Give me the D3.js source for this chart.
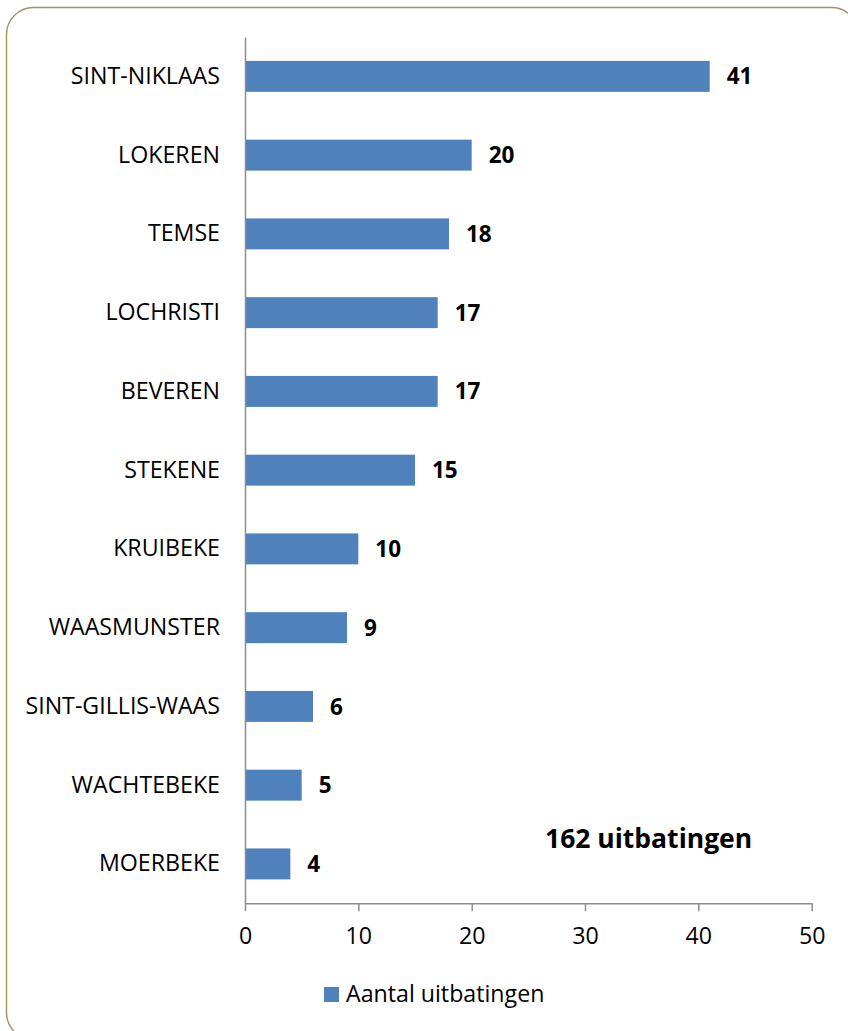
<!DOCTYPE html>
<html><head><meta charset="utf-8">
<script src="https://cdn.jsdelivr.net/npm/d3@7"></script>
<style>html,body{margin:0;padding:0;background:#fff;}svg{display:block;}</style>
</head><body>
<script>
const categories = ["SINT-NIKLAAS","LOKEREN","TEMSE","LOCHRISTI","BEVEREN","STEKENE","KRUIBEKE","WAASMUNSTER","SINT-GILLIS-WAAS","WACHTEBEKE","MOERBEKE"];
const values = [41,20,18,17,17,15,10,9,6,5,4];
const xTicks = [0,10,20,30,40,50];
const seriesName = "Aantal uitbatingen";
const annotation = "162 uitbatingen";

const W = 848, H = 1031;
const FONT = "'Open Sans', sans-serif";
const FS = 23.2;
const svg = d3.select("body").append("svg").attr("width", W).attr("height", H);

// outer rounded border
svg.append("rect").attr("x", 6.5).attr("y", 7.5).attr("width", 852).attr("height", 1032)
  .attr("rx", 27).attr("fill", "#fff").attr("stroke", "#9d9466").attr("stroke-width", 1.4);

const x = d3.scaleLinear().domain([0, 50]).range([245, 811.7]);
const y = d3.scaleBand().domain(categories).range([37, 903.3]).paddingInner(0.607).paddingOuter(0.3035);

const data = categories.map((c, i) => ({c, v: values[i]}));

// bars
svg.append("g").selectAll("rect").data(data).join("rect")
  .attr("x", x(0)).attr("y", d => y(d.c))
  .attr("width", d => x(d.v) - x(0)).attr("height", y.bandwidth())
  .attr("fill", "#4F81BD");

// value labels
svg.append("g").selectAll("text").data(data).join("text")
  .attr("x", d => x(d.v) + 17).attr("y", d => y(d.c) + y.bandwidth() / 2)
  .attr("dy", "0.36em")
  .attr("font-family", FONT).attr("font-weight", "bold").attr("font-size", 22.5)
  .attr("fill", "#000").text(d => d.v);

// x axis
const xAxis = d3.axisBottom(x).tickValues(xTicks).tickSize(8).tickPadding(16).tickSizeOuter(0);
const gx = svg.append("g").attr("transform", `translate(0,${903.3})`).call(xAxis);
gx.select(".domain").attr("stroke", "#8c8c8c").attr("stroke-width", 1.5);
gx.selectAll(".tick line").attr("stroke", "#8c8c8c").attr("stroke-width", 1.5);
gx.selectAll(".tick text").attr("font-family", FONT).attr("font-size", FS).attr("fill", "#000");

// y axis
const yAxis = d3.axisLeft(y).tickSize(0).tickPadding(25);
const gy = svg.append("g").attr("transform", `translate(${x(0)},0)`).call(yAxis);
gy.select(".domain").attr("stroke", "#8c8c8c").attr("stroke-width", 1.5);
gy.selectAll(".tick text").attr("font-family", FONT).attr("font-size", FS).attr("fill", "#000");

// annotation
svg.append("text").attr("x", 545).attr("y", 848)
  .attr("font-family", FONT).attr("font-weight", "bold").attr("font-size", 26.5)
  .attr("fill", "#000").text(annotation);

// legend
const lg = svg.append("g");
lg.append("rect").attr("x", 324).attr("y", 987).attr("width", 15).attr("height", 15).attr("fill", "#4F81BD");
lg.append("text").attr("x", 346).attr("y", 1002)
  .attr("font-family", FONT).attr("font-size", FS).attr("fill", "#000").text(seriesName);
</script>
</body></html>
